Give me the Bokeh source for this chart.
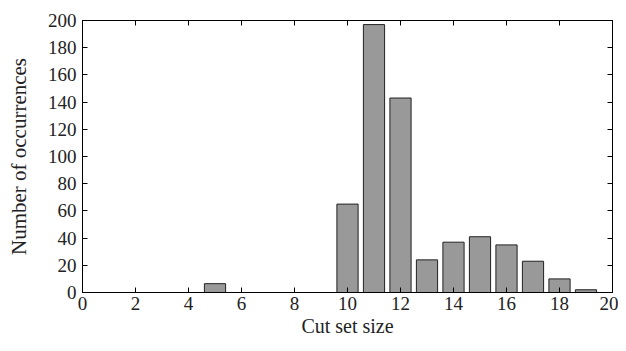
from bokeh.plotting import figure
from bokeh.models import LinearAxis, Range1d, FixedTicker
from bokeh.embed import file_html
from bokeh.resources import INLINE

sizes = [1, 2, 3, 4, 5, 6, 7, 8, 9, 10, 11, 12, 13, 14, 15, 16, 17, 18, 19]
counts = [0, 0, 0, 0, 6.5, 0, 0, 0, 0, 65, 197, 143, 24, 37, 41, 35, 23, 10, 2]
x_ticks = [0, 2, 4, 6, 8, 10, 12, 14, 16, 18, 20]
y_ticks = [0, 20, 40, 60, 80, 100, 120, 140, 160, 180, 200]

FONT = "Liberation Serif"

p = figure(width=618, height=343, output_backend="svg", toolbar_location=None,
           x_range=Range1d(0, 20), y_range=Range1d(0, 200),
           min_border_left=82, min_border_right=6, min_border_top=20, min_border_bottom=51)
p.grid.visible = False
p.outline_line_color = "black"
p.outline_line_width = 1

p.vbar(x=sizes, top=counts, width=0.8, bottom=0, fill_color="#999999",
       line_color="#222222", line_width=1)

def style(ax, ticks, labels=True):
    ax.ticker = FixedTicker(ticks=ticks)
    ax.major_tick_in = 5
    ax.major_tick_out = 0
    ax.minor_tick_in = 0
    ax.minor_tick_out = 0
    ax.axis_line_color = "black"
    ax.major_tick_line_color = "black"
    ax.major_label_text_font = FONT
    ax.major_label_text_font_size = "19px"
    ax.major_label_text_color = "#222222" if labels else None
    ax.axis_label_text_font = FONT
    ax.axis_label_text_font_size = "20px"
    ax.axis_label_text_font_style = "normal"
    ax.axis_label_text_color = "#222222"

style(p.xaxis[0], x_ticks)
style(p.yaxis[0], y_ticks)
p.xaxis[0].axis_label = "Cut set size"
p.yaxis[0].axis_label = "Number of occurrences"
p.yaxis[0].axis_label_text_font_size = "21px"
p.xaxis[0].major_label_standoff = 4
p.yaxis[0].major_label_standoff = 6
p.xaxis[0].axis_label_standoff = 2
p.yaxis[0].axis_label_standoff = 14

top = LinearAxis()
style(top, x_ticks, labels=False)
p.add_layout(top, "above")
right = LinearAxis()
style(right, y_ticks, labels=False)
p.add_layout(right, "right")

open("out.html", "w").write(file_html(p, INLINE))
